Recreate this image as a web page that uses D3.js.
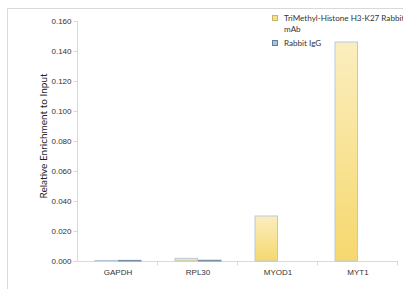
<!DOCTYPE html>
<html><head><meta charset="utf-8">
<script src="https://cdn.jsdelivr.net/npm/d3@7/dist/d3.min.js"></script>
<style>body{margin:0;background:#fff;}svg{display:block;font-family:Lato, "Open Sans", sans-serif;}</style>
</head><body><svg id="c" width="403" height="291"></svg>
<script>
const categories = ["GAPDH", "RPL30", "MYOD1", "MYT1"];
const seriesNames = ["TriMethyl-Histone H3-K27 Rabbit mAb", "Rabbit IgG"];
const trimethylValues = [0.0004, 0.0018, 0.030, 0.146];
const iggValues = [0.0004, 0.0005, 0.0, 0.0];
const yTicks = [0, 0.02, 0.04, 0.06, 0.08, 0.10, 0.12, 0.14, 0.16];

const svg = d3.select("#c");
const defs = svg.append("defs");
const gy = defs.append("linearGradient").attr("id","gy").attr("x1",0).attr("y1",0).attr("x2",0).attr("y2",1);
gy.append("stop").attr("offset","0%").attr("stop-color","#fbeebf");
gy.append("stop").attr("offset","100%").attr("stop-color","#f6d86e");
const gb = defs.append("linearGradient").attr("id","gb").attr("x1",0).attr("y1",0).attr("x2",0).attr("y2",1);
gb.append("stop").attr("offset","0%").attr("stop-color","#a9c4dc");
gb.append("stop").attr("offset","100%").attr("stop-color","#7f9fbf");

// frame
svg.append("path").attr("d","M7.5,289 V8.5 H403").attr("fill","none").attr("stroke","#d9d9d9");

const x = d3.scaleBand().domain(categories).range([78, 398]);
const x1 = d3.scaleBand().domain([0,1]).range([0, 47]);
const y = d3.scaleLinear().domain([0, 0.16]).range([261, 21]);

// y axis
const ya = svg.append("g").attr("transform","translate(77.5,0)")
  .call(d3.axisLeft(y).tickValues(yTicks).tickFormat(d3.format(".3f")).tickSize(4).tickPadding(2));
ya.select(".domain").attr("stroke","#d9d9d9").attr("d","M0,21V261");
ya.selectAll(".tick line").attr("stroke","#d9d9d9");
ya.selectAll(".tick text").attr("fill","#333").style("font-size","8px");

// x axis
const xa = svg.append("g").attr("transform","translate(0,261.5)")
  .call(d3.axisBottom(x).tickSize(0).tickPadding(8));
xa.select(".domain").attr("stroke","#d9d9d9").attr("d","M77.5,0H398");
xa.selectAll(".tick text").attr("fill","#333").style("font-size","8px");
xa.selectAll(".sep").data(categories.map((c,i)=>x(c)+x.bandwidth())).enter().append("line")
  .attr("x1",d=>d-0.5).attr("x2",d=>d-0.5).attr("y1",0).attr("y2",4).attr("stroke","#d9d9d9");

// bars
const data = [trimethylValues, iggValues];
const fills = ["url(#gy)", "url(#gb)"];
const strokes = ["#b9c9dc", "#7890a8"];
data.forEach((vals, si) => {
  svg.append("g").selectAll("rect").data(vals).enter().append("rect")
    .attr("x", (d,i) => x(categories[i]) + x.bandwidth()/2 - 23.5 + x1(si) + 0.5)
    .attr("width", x1.bandwidth() - 1)
    .attr("y", d => y(d))
    .attr("height", d => Math.max(0, y(0) - y(d)))
    .attr("fill", fills[si])
    .attr("stroke", strokes[si]).attr("stroke-width", 1);
});

// y title
svg.append("text").attr("transform","translate(47,136) rotate(-90)").attr("text-anchor","middle")
  .style("font-size","10px").attr("fill","#222").text("Relative Enrichment to Input");

// legend
const lg = svg.append("g");
lg.append("rect").attr("x",272.5).attr("y",15.5).attr("width",5).attr("height",5).attr("fill","#f8e08c").attr("stroke","#c9b46a");
lg.append("text").attr("x",284).attr("y",21).style("font-size","8.1px").attr("fill","#333").text(seriesNames[0].replace(" mAb",""));
lg.append("text").attr("x",284).attr("y",32).style("font-size","8.1px").attr("fill","#333").text("mAb");
lg.append("rect").attr("x",272.5).attr("y",40.5).attr("width",5).attr("height",5).attr("fill","#a9c4dc").attr("stroke","#5f7f9f");
lg.append("text").attr("x",284).attr("y",46).style("font-size","8.1px").attr("fill","#333").text(seriesNames[1]);
</script></body></html>
